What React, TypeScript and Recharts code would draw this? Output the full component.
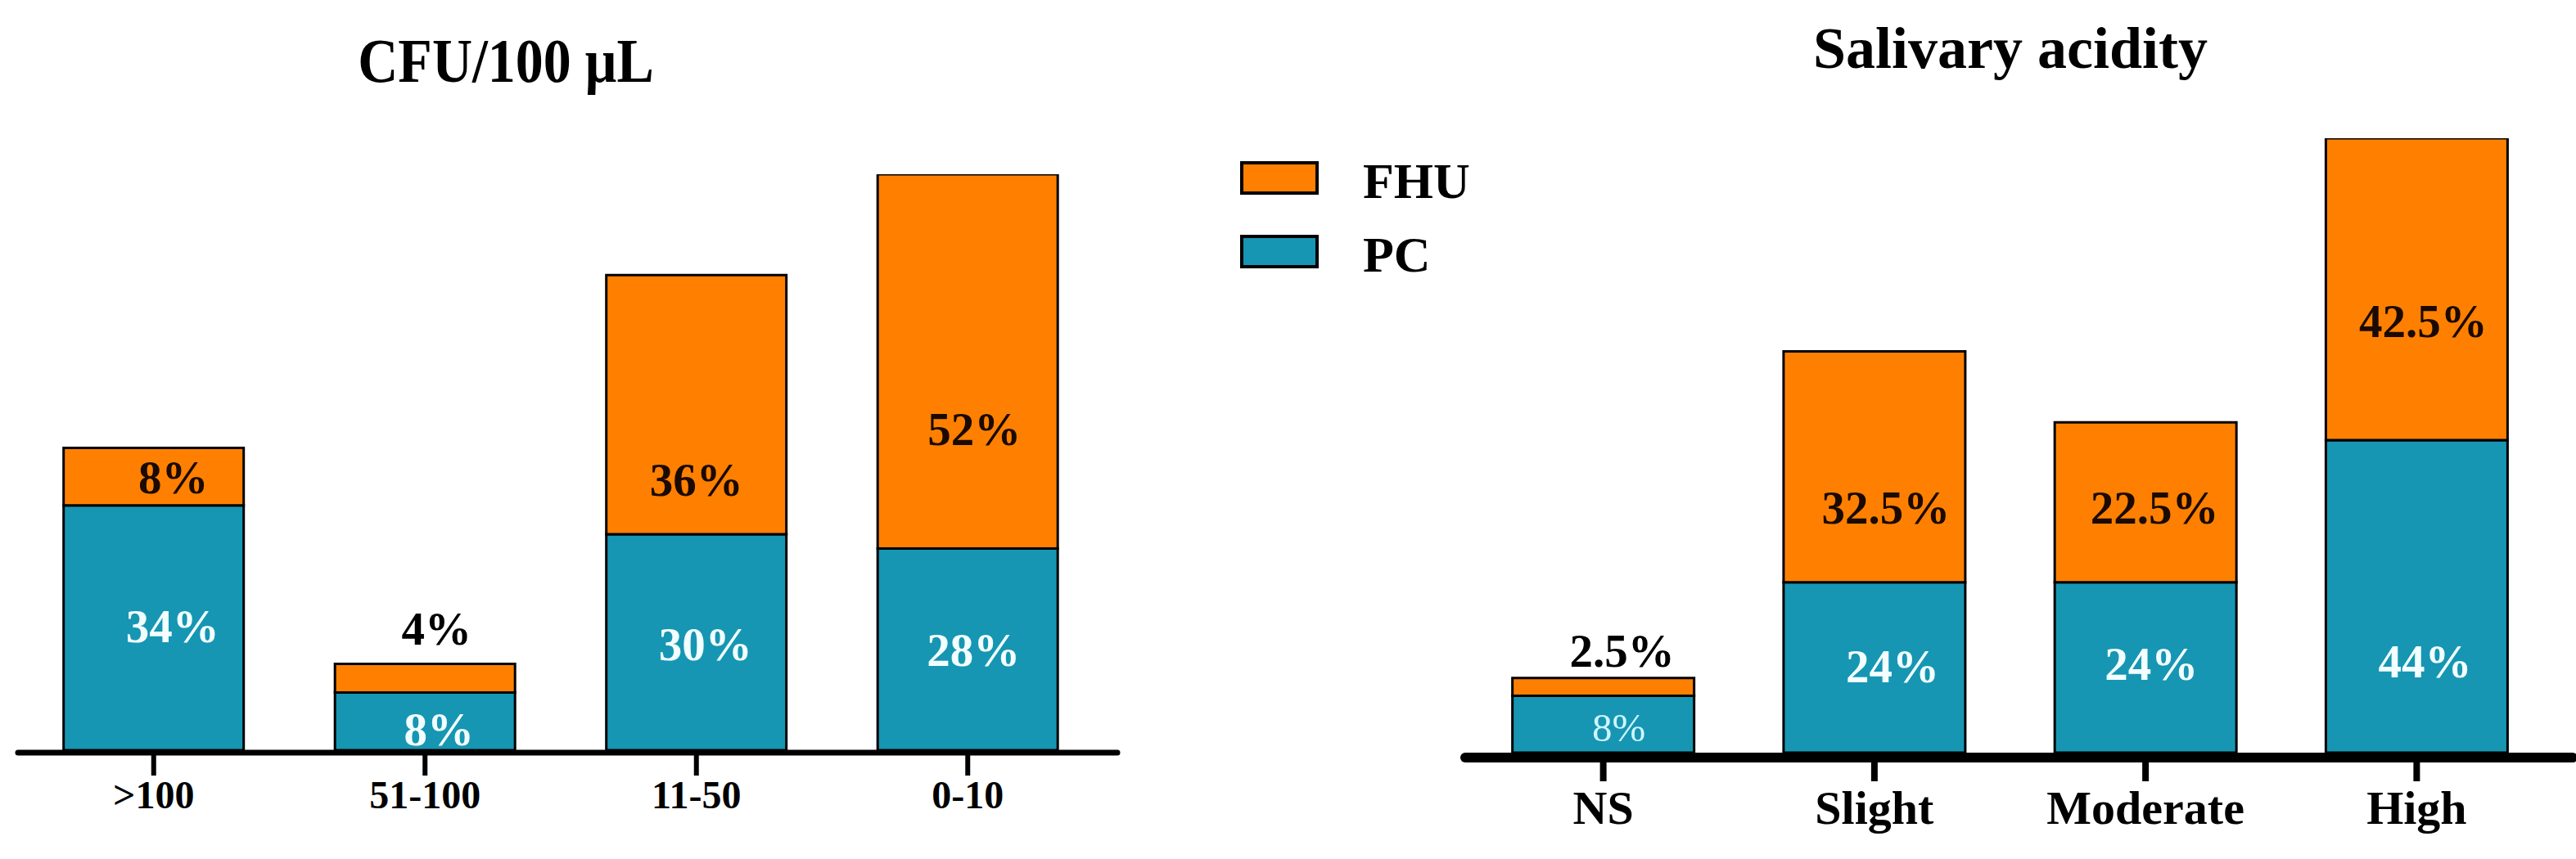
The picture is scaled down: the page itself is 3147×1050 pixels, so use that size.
import React from 'react';
import { BarChart, Bar, XAxis, YAxis, LabelList, Legend } from 'recharts';

// ---------- data ----------
const cfuCategories = ['>100', '51-100', '11-50', '0-10'];
const cfuPC = [34, 8, 30, 28];
const cfuFHU = [8, 4, 36, 52];

const acidityCategories = ['NS', 'Slight', 'Moderate', 'High'];
const acidityPC = [8, 24, 24, 44];
const acidityFHU = [2.5, 32.5, 22.5, 42.5];

const legendOrder = ['FHU', 'PC'];
const cfuTitle = 'CFU/100 \u03bcL';
const acidityTitle = 'Salivary acidity';

// ---------- styles ----------
const ORANGE = '#FF8000';
const TEAL = '#1696B3';
const FONT = '"Liberation Serif", "Times New Roman", Times, serif';
const LIGHT = '#F2FEFF';
const DARK = '#1A0A02';

// label placement nudges relative to segment centre [dx, dy]
const cfuPCNudge = [[23, -2], [17, 10], [11, 3], [7, 1]];
const cfuFHUNudge = [[24, 1], [14, -60], [0, 92], [8, 83]];
const acidPCNudge = [[19, 4], [22, -1], [7, -4], [10, 80]];
const acidFHUNudge = [[23, -44], [14, 50], [11, 7], [8, 39]];
const cfuPCColors = [LIGHT, LIGHT, LIGHT, LIGHT];
const cfuFHUColors = [DARK, '#000', DARK, DARK];
const acidPCColors = ['#CFF6FF', LIGHT, LIGHT, LIGHT];
const acidFHUColors = ['#000', DARK, DARK, DARK];
const boldAll = ['bold', 'bold', 'bold', 'bold'];
const acidPCWeights = ['normal', 'bold', 'bold', 'bold'];
const size57 = [57, 57, 57, 57];
const acidPCSizes = [49, 57, 57, 57];

const cfuData = cfuCategories.map((c, i) => ({ category: c, PC: cfuPC[i], FHU: cfuFHU[i] }));
const acidData = acidityCategories.map((c, i) => ({ category: c, PC: acidityPC[i], FHU: acidityFHU[i] }));

function makeLabel(nudges: number[][], colors: string[], weights: string[], sizes: number[]) {
  return (props: any) => {
    const vb = props.viewBox ?? {};
    const x = Number(vb.x ?? props.x);
    const y = Number(vb.y ?? props.y);
    const w = Number(vb.width ?? props.width);
    const h = Number(vb.height ?? props.height);
    const i = Number(props.index ?? 0);
    const [dx, dy] = nudges[i] ?? [0, 0];
    const fs = sizes[i] ?? 57;
    const cx = x + w / 2 + dx;
    const cy = y + h / 2 + dy;
    return (
      <text
        x={cx}
        y={cy + fs * 0.34}
        textAnchor="middle"
        fill={colors[i]}
        fontFamily={FONT}
        fontWeight={weights[i]}
        fontSize={fs}
      >
        {`${props.value}%`}
      </text>
    );
  };
}

const LegendContent = (props: any) => {
  const items = [...(props.payload ?? [])].sort(
    (a: any, b: any) => legendOrder.indexOf(a.value) - legendOrder.indexOf(b.value)
  );
  return (
    <svg width={420} height={200} style={{ display: 'block', overflow: 'visible' }}>
      {items.map((it: any, i: number) => (
        <g key={it.value}>
          <rect
            x={7}
            y={9 + i * 90}
            width={92}
            height={37}
            fill={it.payload?.fill ?? it.color}
            stroke="#000"
            strokeWidth={4}
          />
          <text
            x={155}
            y={52 + i * 90}
            fontFamily={FONT}
            fontWeight="bold"
            fontSize={62}
            fill="#000"
          >
            {it.value}
          </text>
        </g>
      ))}
    </svg>
  );
};

export default function App() {
  return (
    <div
      style={{
        position: 'absolute',
        left: 0,
        top: 0,
        width: 3147,
        height: 1050,
        background: '#fff',
        overflow: 'hidden',
      }}
    >
      <div style={{ position: 'absolute', left: 0, top: 0 }}>
        <BarChart
          width={1450}
          height={1050}
          data={cfuData}
          margin={{ top: 213, right: 85, bottom: 30, left: 22 }}
          barCategoryGap="16.8%"
        >
          <XAxis
            dataKey="category"
            interval={0}
            height={100}
            padding={{ left: 0, right: 17 }}
            axisLine={{ stroke: '#000', strokeWidth: 7, strokeLinecap: 'round' }}
            tickLine={{ stroke: '#000', strokeWidth: 6 }}
            tickSize={28}
            tickMargin={6}
            tick={{ fill: '#000', fontSize: 48, fontWeight: 'bold', fontFamily: FONT }}
          />
          <YAxis hide domain={[-0.34, 80]} allowDataOverflow />
          <Bar dataKey="PC" name="PC" stackId="s" fill={TEAL} stroke="#000" strokeWidth={3} isAnimationActive={false}>
            <LabelList dataKey="PC" content={makeLabel(cfuPCNudge, cfuPCColors, boldAll, size57)} />
          </Bar>
          <Bar dataKey="FHU" name="FHU" stackId="s" fill={ORANGE} stroke="#000" strokeWidth={3} isAnimationActive={false}>
            <LabelList dataKey="FHU" content={makeLabel(cfuFHUNudge, cfuFHUColors, boldAll, size57)} />
          </Bar>
        </BarChart>
      </div>

      <div style={{ position: 'absolute', left: 1450, top: 0 }}>
        <BarChart
          width={1697}
          height={1050}
          data={acidData}
          margin={{ top: 169, right: 4, bottom: 24, left: 340 }}
          barCategoryGap="16.5%"
        >
          <XAxis
            dataKey="category"
            interval={0}
            height={100}
            padding={{ left: 3, right: 25 }}
            axisLine={{ stroke: '#000', strokeWidth: 12, strokeLinecap: 'round' }}
            tickLine={{ stroke: '#000', strokeWidth: 8 }}
            tickSize={29}
            tickMargin={11}
            tick={{ fill: '#000', fontSize: 58, fontWeight: 'bold', fontFamily: FONT }}
          />
          <YAxis hide domain={[-0.69, 86.5]} allowDataOverflow />
          <Legend
            layout="vertical"
            align="center"
            verticalAlign="middle"
            content={LegendContent}
            wrapperStyle={{ left: 60, top: 190, width: 420, height: 200 }}
          />
          <Bar dataKey="PC" name="PC" stackId="s" fill={TEAL} stroke="#000" strokeWidth={3} isAnimationActive={false}>
            <LabelList dataKey="PC" content={makeLabel(acidPCNudge, acidPCColors, acidPCWeights, acidPCSizes)} />
          </Bar>
          <Bar dataKey="FHU" name="FHU" stackId="s" fill={ORANGE} stroke="#000" strokeWidth={3} isAnimationActive={false}>
            <LabelList dataKey="FHU" content={makeLabel(acidFHUNudge, acidFHUColors, boldAll, size57)} />
          </Bar>
        </BarChart>
      </div>

      <svg style={{ position: 'absolute', left: 0, top: 0 }} width={3147} height={160}>
        <text
          transform="translate(618,100) scale(1,1.12)"
          x={0}
          y={0}
          textAnchor="middle"
          fontFamily={FONT}
          fontWeight="bold"
          fontSize={68}
          fill="#000"
        >
          {cfuTitle}
        </text>
        <text x={2456} y={83} textAnchor="middle" fontFamily={FONT} fontWeight="bold" fontSize={72} fill="#000">
          {acidityTitle}
        </text>
      </svg>
    </div>
  );
}
